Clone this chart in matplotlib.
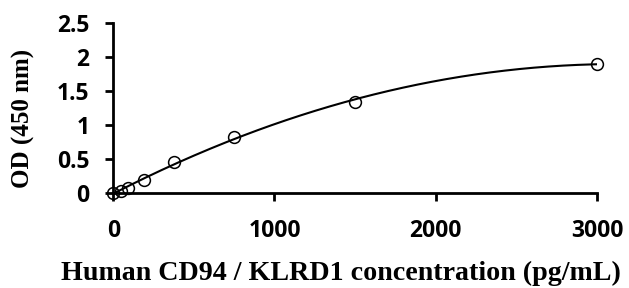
import numpy as np
import matplotlib
matplotlib.use("Agg")
import matplotlib.pyplot as plt

conc = [0, 47, 94, 188, 375, 750, 1500, 3000]
od = [0.0, 0.03, 0.08, 0.19, 0.46, 0.83, 1.34, 1.90]
xticks = [0, 1000, 2000, 3000]
yticks = [0, 0.5, 1, 1.5, 2, 2.5]
ytick_labels = ["0", "0.5", "1", "1.5", "2", "2.5"]

fig = plt.figure(figsize=(6.29, 2.88), dpi=100)
ax = fig.add_axes([0.180, 0.330, 0.769, 0.590])

# polynomial trendline through the standards
coef = np.polyfit(conc, od, 2)
xs = np.linspace(0, 3000, 300)
ax.plot(xs, np.polyval(coef, xs), color="black", lw=1.5)
ax.plot(conc, od, "o", mfc="none", mec="black", ms=8.5, mew=1.1, clip_on=False, zorder=3)

ax.set_xlim(0, 3000)
ax.set_ylim(0, 2.5)
ax.set_xticks(xticks)
ax.set_yticks(yticks)
ax.set_yticklabels(ytick_labels)
for s in ["top", "right"]:
    ax.spines[s].set_visible(False)
for s in ["left", "bottom"]:
    ax.spines[s].set_linewidth(2)
ax.tick_params(width=2, length=6, labelsize=16.5)
ax.tick_params(axis="x", pad=13)
ax.tick_params(axis="y", pad=11)
for lab in ax.get_xticklabels() + ax.get_yticklabels():
    lab.set_fontfamily("Open Sans")
    lab.set_fontweight("bold")

ax.set_xlabel("Human CD94 / KLRD1 concentration (pg/mL)", fontsize=20.2,
              fontweight="bold", family="Liberation Serif", va="baseline")
ax.xaxis.set_label_coords(0.47, -0.512)
ax.set_ylabel("OD (450 nm)", fontsize=18, fontweight="bold",
              family="Liberation Serif", va="center")
ax.yaxis.set_label_coords(-0.186, 0.44)

fig.savefig("out.png", dpi=100)
